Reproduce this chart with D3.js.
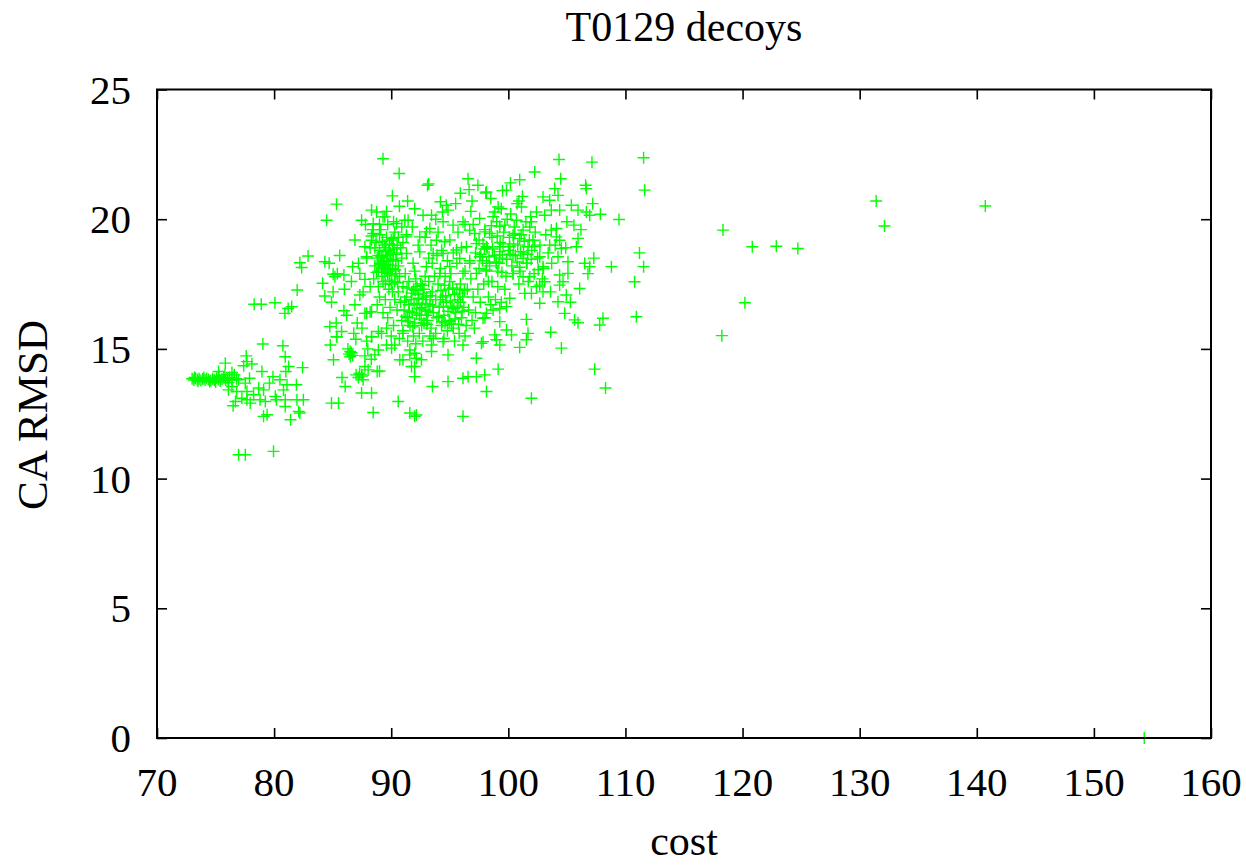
<!DOCTYPE html>
<html>
<head>
<meta charset="utf-8">
<script src="https://cdn.jsdelivr.net/npm/d3@7"></script>
<style>
html,body{margin:0;padding:0;background:#fff;}
svg{display:block;}
text{font-family:"Liberation Serif","Times New Roman",Times,serif;fill:#000;}
</style>
</head>
<body>
<svg id="chart" width="1246" height="866"></svg>
<script>
// ---- data ----
const chartTitle = "T0129 decoys";
const xLabel = "cost";
const yLabel = "CA RMSD";
const xTicks = [70, 80, 90, 100, 110, 120, 130, 140, 150, 160];
const yTicks = [0, 5, 10, 15, 20, 25];

// [cost, CA RMSD]
const leftStrip = [
[73.0,13.85],[73.15,13.8],[73.3,13.87],[73.45,13.82],[73.6,13.85],[73.75,13.78],[73.9,13.84],[74.1,13.8],
[74.25,13.86],[74.4,13.82],[74.6,13.78],[74.75,13.85],[74.9,13.8],[75.1,13.88],[75.25,13.82],[75.4,13.76],
[75.55,13.84],[75.7,13.9],[75.85,13.8],[76.0,13.86],[76.2,13.9],[76.4,13.8],[73.2,13.9],[73.5,13.75],
[74.0,13.9],[74.5,13.74],[75.0,13.72],[75.3,13.95],[75.8,14.0],[76.1,13.7],[76.6,14.0],[76.8,13.85]
];
const leftScatter = [
[79.04,15.19],[80.75,15.12],[80.95,14.70],[77.62,14.73],[77.68,14.51],[78.1,14.42],[77.4,14.35],[75.83,14.45],
[81.24,14.32],[82.43,14.28],[78.96,14.13],[81.0,14.13],[76.4,14.09],[75.26,14.13],[79.9,13.93],[77.9,13.87],
[80.5,13.81],[76.97,13.81],[77.54,13.68],[78.68,13.49],[79.6,13.68],[81.1,13.62],[81.9,13.62],[76.4,13.55],
[76.1,13.42],[76.8,13.36],[79.1,13.42],[80.8,13.42],[77.68,13.36],[78.25,13.23],[77.25,13.10],[77.68,13.04],
[78.8,13.04],[76.7,12.97],[79.25,12.97],[80.1,13.17],[80.2,13.04],[80.95,13.04],[81.95,13.04],[82.5,13.04],
[76.5,12.81],[77.96,12.91],[80.95,12.78],[82.1,12.59],[82.2,12.53],[79.4,12.46],[79.1,12.40],[81.4,12.27],
[84.9,12.91],[85.5,12.91],[86.07,13.55],[85.07,14.58],[84.8,15.15],[85.36,15.47],[76.97,10.92],[77.54,10.92],
[79.95,11.05],[78.3,16.72],[78.9,16.72]
];
const midLeft = [
[89.3,22.33],[90.68,21.76],[85.33,20.58],[84.48,19.96],[87.47,19.96],[88.32,20.35],[88.75,20.28],[89.45,20.09],
[88.46,19.83],[90.45,19.83],[91.16,19.96],[82.9,18.58],[82.2,18.32],[82.35,18.14],[84.33,18.36],[85.04,17.88],
[85.19,17.78],[85.96,17.85],[84.14,17.53],[85.04,17.20],[84.33,17.04],[81.97,17.27],[80.07,16.78],[81.2,16.56],
[81.5,16.63],[80.92,16.37],[85.96,16.47],[87.32,17.08],[86.7,18.17],[87.32,17.91],[87.75,18.94],[87.9,18.55],
[88.32,19.35],[87.75,17.68],[88.2,17.40],[87.9,16.37],[88.32,16.43],[84.76,15.86],[85.76,15.67],[85.33,15.47],
[86.98,15.37],[88.32,15.47],[88.9,15.67],
[86.4,14.8],[86.5,14.7],[86.6,14.85],[86.5,14.9],[86.7,14.75],[86.3,15.0],[87.0,14.0],[87.2,13.9],[87.3,14.05],
[87.5,13.95],[85.8,13.9],[86.8,15.6],[87.1,16.0],[87.5,15.8],[87.9,15.3],[86.2,16.3],[86.9,16.7],[87.6,17.2],
[86.0,17.3],[86.6,17.6],[87.2,18.3],[87.8,19.8],[86.9,19.2],[85.4,17.9],[85.6,18.6],[84.7,18.3],[85.3,16.0],
[84.9,16.8],[88.0,15.0],[88.3,14.6]
];
const midUpper = [
[93.1,21.31],[93.2,21.36],[96.56,21.56],[97.4,21.31],[96.65,21.14],[98.07,21.01],[94.2,20.67],[94.7,20.54],
[94.85,20.35],[94.37,20.28],[89.3,20.09],[92.72,20.15],[93.44,20.15],[91.44,19.96],[94.43,19.9],[96.13,19.9],
[97.55,20.03],[93.3,19.64],[95.28,19.77],[96.7,19.58],[97.13,19.45],[97.99,19.51],[88.46,19.45],[88.32,19.19],
[90.17,19.26],[91.3,19.32],[92.44,19.32],[93.0,19.51],[93.86,19.19],[94.57,19.13],[95.57,18.81],[96.42,18.94],
[97.27,19.06],[98.13,18.94],[93.58,18.68],[94.43,18.68],[92.44,18.74],[91.3,18.68],[95.85,18.49],[96.7,18.3],
[97.56,18.55],[95.0,18.17],[93.0,18.17],[91.87,18.3],[94.15,17.91],[96.13,17.91],[97.27,17.91],[98.13,18.04],
[91.8,19.7],[92.3,19.0],[92.9,19.3],[93.4,19.0],[94.0,19.5],[95.0,19.2],[95.7,19.5],[96.3,19.8],[96.8,20.3],
[95.5,20.6],[93.8,20.0],[92.0,20.4],[91.4,20.7],[90.7,20.5],[90.1,20.9],[89.6,20.3],[95.9,21.0],[96.9,20.7],
[98.5,20.8],[99.5,21.1],[99.9,20.0]
];
const midLower = [
[88.2,16.43],[87.75,16.37],[88.32,15.47],[89.17,15.6],[88.9,14.96],[88.6,14.77],[87.75,14.73],[89.6,15.15],
[90.03,15.03],[90.3,15.15],[91.0,14.58],[91.59,14.77],[92.0,14.83],[92.0,14.32],[92.58,14.58],[93.44,14.9],
[94.85,14.77],[90.73,14.58],[91.73,14.32],[88.8,14.13],[89.0,14.15],[87.75,14.32],[87.47,14.0],[88.03,14.19],
[87.6,13.81],[88.32,13.3],[87.47,13.3],[92.0,13.93],[93.52,13.55],[94.85,13.74],[96.13,13.87],[96.56,13.93],
[97.27,13.93],[97.98,14.0],[98.13,13.36],[90.6,12.97],[88.46,12.55],[91.59,12.53],[92.0,12.4],[92.15,12.45],
[96.13,12.4],[93.44,15.15],[94.43,15.28],[96.13,15.15],[97.7,15.22],[97.27,14.64],[91.0,15.6],[91.59,14.96],
[92.15,14.64]
];
const denseA = [
[88.6,18.2],[88.8,18.5],[88.9,18.0],[89.0,18.8],[89.1,18.3],[89.2,17.8],[89.3,18.6],[89.4,19.0],[89.5,18.2],
[89.6,18.5],[89.7,17.9],[89.8,18.8],[89.9,18.4],[90.0,19.2],[90.1,18.1],[90.2,18.7],[90.3,17.6],[90.4,18.4],
[90.5,19.0],[90.6,18.2],[90.7,17.8],[90.8,18.9],[88.7,19.1],[89.0,19.4],[89.3,17.6],[89.6,19.3],[90.0,17.5],
[90.3,19.5],[88.5,17.7],[89.8,17.3],[90.9,18.5],[89.2,18.1],[89.5,18.9],[89.9,18.0],[88.9,18.6],[90.4,17.9],
[89.4,18.4],[89.7,18.6],[90.1,19.0],[88.6,18.9],[89.1,19.6],[88.9,17.4],[90.6,19.3],[89.5,17.5],[89.3,18.35],
[88.4,19.6],[89.0,19.8],[89.7,19.8],[90.2,19.9],[90.9,19.7],[91.3,19.4],[91.0,19.1],[88.2,18.9],[87.9,18.5]
];
const denseB = [
[90.6,17.2],[90.8,16.8],[91.0,17.4],[91.1,16.5],[91.3,17.0],[91.4,16.2],[91.5,17.6],[91.7,16.9],[91.8,16.4],
[91.9,17.3],[92.0,16.0],[92.1,17.7],[92.2,16.7],[92.3,17.1],[92.4,16.3],[92.5,17.5],[92.6,15.9],[92.7,16.9],
[92.8,17.3],[92.9,16.5],[93.0,17.0],[93.1,16.1],[93.2,17.6],[93.3,16.7],[93.4,15.8],[93.5,17.2],[93.6,16.4],
[93.7,17.8],[93.8,16.9],[93.9,16.2],[91.2,17.9],[91.6,15.9],[92.0,18.0],[92.4,15.6],[92.9,17.8],[93.3,15.5],
[90.9,16.1],[91.9,15.5],[92.6,16.6],[93.0,16.3],[91.5,16.7],[92.2,17.4],[92.8,16.0],[91.0,15.7],[90.7,15.4],
[91.4,15.3],[92.1,15.2],[92.7,15.3],[93.6,15.4],[90.5,16.5],[90.3,16.9],[90.1,17.2],[89.9,16.6],[89.7,16.2],
[89.5,16.9],[89.3,16.4],[89.0,17.0],[88.8,16.7],[90.2,15.9],[89.6,15.8],[90.0,15.5]
];
const denseC = [
[94.0,17.5],[94.1,16.6],[94.2,18.1],[94.3,15.9],[94.4,17.0],[94.5,16.3],[94.6,17.8],[94.7,16.8],[94.8,15.7],
[94.9,17.3],[95.0,16.1],[95.1,17.9],[95.2,16.6],[95.3,15.8],[95.4,17.1],[95.5,16.4],[95.6,18.3],[95.7,16.9],
[95.8,15.6],[95.9,17.5],[96.0,16.2],[96.1,17.0],[96.2,16.6],[96.3,18.0],[96.4,15.9],[96.5,17.3],[96.6,16.5],
[96.8,17.7],[96.9,16.1],[97.0,17.0],[93.5,18.3],[93.9,18.6],[94.3,18.8],[94.8,18.4],[95.3,18.7],[96.0,18.9],
[93.2,18.5],[94.6,16.0],[95.0,17.6],[95.6,17.3],[94.2,16.9],[95.9,16.8],[96.7,18.4],[97.2,16.4],[97.4,17.3],
[97.1,15.8],[96.3,15.5],[95.4,15.3],[94.5,15.4],[93.8,15.6],[97.6,16.8],[97.9,17.5],[97.5,18.1],[98.0,16.2],
[98.3,17.0],[98.5,16.7],[98.6,17.6],[98.9,16.9],[99.1,17.4],[99.4,16.8]
];
const denseD = [
[97.2,18.7],[97.5,19.2],[97.8,18.4],[98.0,19.6],[98.2,18.9],[98.4,18.2],[98.6,19.3],[98.8,18.6],[99.0,19.9],
[99.1,18.0],[99.3,19.1],[99.5,18.5],[99.6,19.5],[99.8,17.8],[100.0,18.8],[100.1,19.3],[100.3,18.2],[100.5,19.7],
[100.6,18.6],[100.8,19.0],[101.0,18.0],[101.1,19.4],[101.3,18.7],[101.5,19.9],[101.6,18.3],[101.8,19.2],
[102.0,18.8],[102.2,17.9],[102.3,19.5],[102.5,18.5],[102.7,19.0],[103.0,18.1],[103.2,19.4],[103.4,18.7],
[103.7,18.3],[104.0,19.0],[98.3,17.6],[99.7,17.3],[100.9,17.5],[102.4,17.4],[97.0,19.8],[98.7,20.1],
[100.2,20.2],[101.9,20.1],[99.4,20.4],[100.9,20.7],[98.1,18.0],[99.2,18.3],[100.4,17.9],[101.7,17.6],
[102.9,17.7],[103.6,17.2]
];
const denseCore = [
[89.15,18.55],[89.35,18.15],[89.55,18.75],[89.75,18.25],[89.95,18.65],[90.15,18.45],[90.35,18.05],[89.45,17.95],
[89.85,19.05],[90.25,18.85],[89.05,18.25],[89.65,18.05],[90.05,17.85],[90.45,18.65],[89.25,19.15],[89.85,17.65],
[90.55,17.55],[88.75,17.95],
[91.15,16.85],[91.35,17.35],[91.55,16.45],[91.75,17.15],[91.95,16.75],[92.15,16.35],[92.35,16.95],[92.55,16.15],
[92.75,17.15],[92.95,16.75],[93.15,16.45],[93.35,17.05],[92.05,17.25],[91.45,16.05],[92.65,17.45],[93.05,15.95],
[91.85,15.85],[92.45,16.55],[91.25,16.25],[93.55,16.65],
[94.05,16.25],[94.25,17.25],[94.45,16.65],[94.65,17.05],[94.85,16.45],[95.05,16.85],[95.25,17.35],[95.45,16.15],
[95.65,16.65],[95.85,17.15],[94.35,16.05],[94.95,16.05],[95.15,15.95],[95.75,15.95],[94.55,17.45],[95.35,16.55],
[96.05,16.45],[96.25,17.25],
[98.35,18.55],[98.65,18.85],[98.95,18.35],[99.25,18.75],[99.55,19.05],[99.85,18.45],[100.15,18.65],[100.45,19.05],
[100.75,18.35],[101.05,18.75],[101.35,19.15],[101.65,18.65],[101.95,18.45],[102.25,18.95],[99.05,19.35],
[100.55,19.45],[98.55,19.75],[97.65,18.65],[97.95,18.85],[99.45,17.95],[100.95,18.15],[102.55,18.05]
];
const rightUpper = [
[104.33,22.3],[107.14,22.2],[102.25,21.82],[100.97,21.52],[100.18,21.4],[104.47,21.56],[106.6,21.31],
[106.66,21.18],[98.13,21.05],[99.84,21.12],[103.96,21.18],[101.2,20.88],[102.96,20.86],[103.53,20.73],
[104.24,20.92],[100.75,20.6],[101.12,20.47],[99.13,20.47],[98.84,20.28],[102.4,20.28],[103.1,20.15],
[103.67,20.35],[104.38,20.35],[105.38,20.54],[105.95,20.35],[106.66,20.28],[106.95,20.15],[107.86,20.19],
[109.45,19.99],[100.7,19.96],[101.97,19.9],[99.27,19.73],[99.7,19.77],[101.26,19.58],[101.83,19.7],
[103.67,19.58],[104.1,19.64],[105.6,19.77],[98.41,19.45],[100.4,19.38],[100.97,19.26],[102.1,19.19],
[104.1,19.32],[104.38,19.19],[105.95,19.26],[105.81,18.94],[97.84,19.06],[99.27,18.94],[100.12,18.94],
[101.68,18.94],[103.53,19.0],[104.53,18.87],[99.27,18.62],[100.4,18.62],[101.26,18.49],[102.68,18.55],
[104.24,18.55],[105.09,18.36],[106.52,18.3],[106.95,18.17],[108.8,18.17],[98.13,18.3],[98.98,18.3],
[101.54,18.3],[102.96,18.17],[104.38,17.85],[105.09,17.91],[100.4,17.91],[101.83,17.78],
[104.9,18.9],[106.2,19.6],[105.0,19.9],[107.2,20.6],[106.8,17.9],[107.3,18.5]
];
const rightLower = [
[104.67,17.59],[104.38,17.46],[103.1,17.59],[102.68,17.46],[102.96,17.2],[101.26,17.78],[106.09,17.33],
[101.4,17.14],[101.97,17.14],[100.12,16.95],[102.68,16.76],[104.24,16.82],[104.95,17.08],[99.84,16.63],
[99.27,16.56],[98.7,16.5],[98.13,16.37],[104.81,16.37],[101.54,16.14],[105.66,16.12],[105.95,16.01],
[108.08,16.18],[107.8,15.92],[99.27,16.05],[97.84,16.18],[103.62,15.64],[101.68,15.6],[99.84,15.73],
[100.27,15.54],[98.84,15.54],[98.98,15.35],[99.27,15.15],[97.84,15.28],[101.54,15.35],[100.97,15.06],
[104.53,15.03],[107.37,14.22],[99.13,14.22],[108.3,13.49],[101.97,13.1],[105.3,16.8]
];
const farRight = [
[111.55,22.37],[111.64,21.12],[118.33,19.58],[120.83,18.94],[122.88,18.96],[124.72,18.87],[131.41,20.7],
[132.12,19.74],[140.73,20.51],[111.2,18.7],[111.55,18.17],[110.78,17.59],[110.93,16.24],[120.2,16.78],
[118.23,15.51],[154.3,0.0]
];

const points = [].concat(leftStrip, leftScatter, midLeft, midUpper, midLower,
  denseA, denseB, denseC, denseD, denseCore, rightUpper, rightLower, farRight);

// ---- layout ----
const svg = d3.select("#chart");
const L = 157, R = 1211, T = 89.5, B = 738;
const x = d3.scaleLinear().domain([70, 160]).range([L, R]);
const y = d3.scaleLinear().domain([0, 25]).range([B, T]);

// points
const arm = 6;
svg.append("g")
  .selectAll("path")
  .data(points)
  .join("path")
  .attr("d", d => {
    const px = x(d[0]), py = y(d[1]);
    return `M${px - arm},${py}H${px + arm}M${px},${py - arm}V${py + arm}`;
  })
  .attr("stroke", "#00ff00")
  .attr("stroke-width", 1.4)
  .attr("fill", "none");

// axes with inward ticks
function styleAxis(g) {
  g.select(".domain").remove();
  g.selectAll(".tick line").attr("stroke", "#000").attr("stroke-width", 1.6);
  g.selectAll(".tick text").remove();
}
svg.append("g").attr("transform", `translate(0,${B})`)
  .call(d3.axisBottom(x).tickValues(xTicks).tickSize(-10).tickSizeOuter(0)).call(styleAxis);
svg.append("g").attr("transform", `translate(0,${T})`)
  .call(d3.axisTop(x).tickValues(xTicks).tickSize(-10).tickSizeOuter(0)).call(styleAxis);
svg.append("g").attr("transform", `translate(${L},0)`)
  .call(d3.axisLeft(y).tickValues(yTicks).tickSize(-10).tickSizeOuter(0)).call(styleAxis);
svg.append("g").attr("transform", `translate(${R},0)`)
  .call(d3.axisRight(y).tickValues(yTicks).tickSize(-10).tickSizeOuter(0)).call(styleAxis);

// frame
svg.append("rect")
  .attr("x", L).attr("y", T).attr("width", R - L).attr("height", B - T)
  .attr("fill", "none").attr("stroke", "#000").attr("stroke-width", 2);

// tick labels
svg.append("g").selectAll("text").data(xTicks).join("text")
  .attr("x", d => x(d)).attr("y", 796)
  .attr("text-anchor", "middle")
  .style("font-size", "41px")
  .text(d => d);
svg.append("g").selectAll("text").data(yTicks).join("text")
  .attr("x", 131).attr("y", d => y(d) + 14)
  .attr("text-anchor", "end")
  .style("font-size", "41px")
  .text(d => d);

// title and labels
svg.append("text").attr("x", (L + R) / 2).attr("y", 41)
  .attr("text-anchor", "middle").style("font-size", "42px").text(chartTitle);
svg.append("text").attr("x", (L + R) / 2).attr("y", 855)
  .attr("text-anchor", "middle").style("font-size", "42px").text(xLabel);
svg.append("text").attr("transform", "translate(47,415) rotate(-90)")
  .attr("text-anchor", "middle").style("font-size", "43px").text(yLabel);
</script>
</body>
</html>
